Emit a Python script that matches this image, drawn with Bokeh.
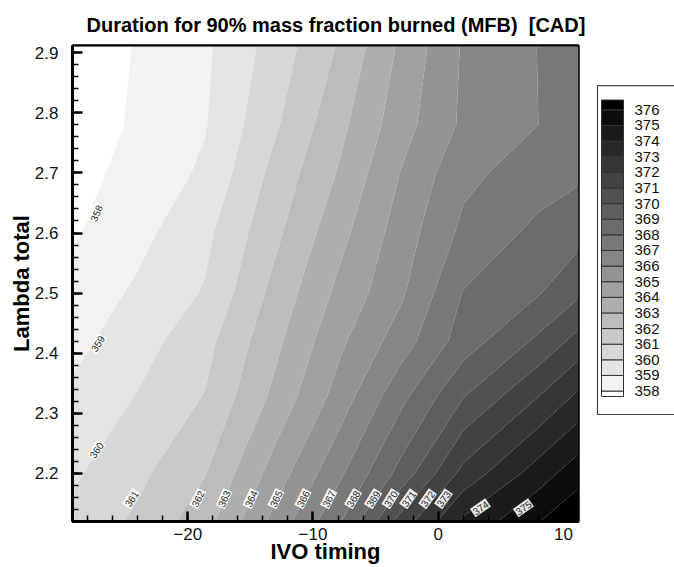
import numpy as np
from bokeh.plotting import figure
from bokeh.models import Range1d, FixedTicker
from bokeh.layouts import row
from bokeh.embed import file_html
from bokeh.resources import INLINE
from bokeh.core.properties import value

# ---------------- data ----------------
ivo_timing = [-29.2, -24.0, -18.6, -13.0, -8.0, -3.0, 2.0, 8.0, 11.2]
lambda_total = [2.12, 2.20, 2.33, 2.42, 2.50, 2.60, 2.70, 2.78, 2.91]

# duration [CAD], one row per lambda value (bottom -> top)
dur_l212 = [360.25, 361.19, 362.60, 365.34, 367.80, 371.40, 374.19, 375.95, 376.90]
dur_l220 = [359.85, 360.76, 361.96, 364.45, 366.75, 369.34, 372.32, 374.50, 375.60]
dur_l233 = [359.18, 360.04, 361.04, 363.25, 365.35, 367.67, 369.92, 371.95, 373.17]
dur_l242 = [358.71, 359.57, 360.68, 362.76, 364.75, 366.50, 368.48, 370.21, 371.37]
dur_l250 = [358.33, 359.17, 360.09, 362.33, 364.22, 365.82, 368.05, 368.93, 369.83]
dur_l260 = [357.89, 358.70, 359.76, 361.78, 363.64, 365.46, 367.24, 368.26, 368.65]
dur_l270 = [357.64, 358.34, 359.17, 361.33, 363.06, 365.03, 366.74, 367.51, 367.82]
dur_l278 = [357.40, 358.16, 358.94, 360.87, 362.68, 364.58, 366.18, 367.00, 367.70]
dur_l291 = [357.34, 358.07, 358.83, 360.43, 362.07, 364.17, 366.11, 367.02, 367.40]

contour_levels = list(range(358, 377))  # 358 ... 376

# in-plot contour labels
clabel_value = [358, 359, 360, 361, 362, 363, 364, 365, 366, 367, 368, 369, 370, 371, 372, 373, 374, 375]
clabel_x = [-27.3, -27.2, -27.3, -24.5, -19.2, -17.1, -14.96, -12.96, -10.8, -8.75, -6.8, -5.2, -3.8, -2.37, -0.85, 0.42, 3.37, 6.8]
clabel_y = [2.633, 2.416, 2.239, 2.158, 2.158, 2.158, 2.158, 2.158, 2.158, 2.158, 2.158, 2.158, 2.158, 2.158, 2.158, 2.158, 2.143, 2.143]
clabel_angle = [66, 58, 56, 57, 63, 65, 65, 65, 63, 63, 60, 58, 58, 55, 55, 55, 35, 35]

x_ticks = [-20, -10, 0, 10]
y_ticks = [2.2, 2.3, 2.4, 2.5, 2.6, 2.7, 2.8, 2.9]

title_text = "Duration for 90% mass fraction burned (MFB)\u00a0 [CAD]"

# ---------------- styling ----------------
FONT = "Liberation Sans"
Z = np.array([dur_l212, dur_l220, dur_l233, dur_l242, dur_l250,
              dur_l260, dur_l270, dur_l278, dur_l291])

fill_levels = [357.0] + contour_levels + [377.5]
nb = len(fill_levels) - 1
grays = []
for i in range(nb):
    g = int(round(255 * (1 - i / (nb - 1))))
    grays.append("#%02x%02x%02x" % (g, g, g))

p = figure(width=595, height=567, output_backend="svg", toolbar_location=None,
           x_range=Range1d(-29.2, 11.2), y_range=Range1d(2.12, 2.912),
           min_border_left=72, min_border_right=17, min_border_top=45, min_border_bottom=46)
p.background_fill_color = "white"
p.border_fill_color = "white"
p.grid.visible = False
p.outline_line_color = "black"
p.outline_line_width = 2.5

p.title.text = title_text
p.title.align = "left"
p.title.offset = 14
p.title.standoff = 20
p.title.text_font = FONT
p.title.text_font_size = "20px"
p.title.text_font_style = "bold"
p.title.text_color = "black"

p.contour(x=ivo_timing, y=lambda_total, z=Z, levels=fill_levels, fill_color=grays)

p.text(x=clabel_x, y=clabel_y, text=[str(v) for v in clabel_value],
       angle=list(np.radians(clabel_angle)),
       text_font=value(FONT), text_font_size=value("10px"), text_color="#222222",
       text_align="center", text_baseline="middle",
       background_fill_color="white", background_fill_alpha=0.9, padding=1)

for ax in (p.xaxis[0], p.yaxis[0]):
    ax.axis_line_width = 3
    ax.axis_line_color = "black"
    ax.major_tick_in = 10
    ax.major_tick_out = 0
    ax.minor_tick_in = 6
    ax.minor_tick_out = 0
    ax.major_tick_line_width = 2.5
    ax.minor_tick_line_width = 1.5
    ax.major_tick_line_color = "black"
    ax.minor_tick_line_color = "black"
    ax.major_label_text_font = FONT
    ax.major_label_text_font_size = "17px"
    ax.major_label_text_color = "#111111"
    ax.axis_label_text_font = FONT
    ax.axis_label_text_font_size = "22px"
    ax.axis_label_text_font_style = "bold"
    ax.axis_label_text_color = "black"

p.xaxis.ticker = FixedTicker(ticks=x_ticks, minor_ticks=list(np.arange(-28, 11, 2)))
p.yaxis.ticker = FixedTicker(ticks=y_ticks, minor_ticks=list(np.round(np.arange(2.12, 2.92, 0.02), 2)))
p.xaxis.axis_label = "IVO timing"
p.yaxis.axis_label = "Lambda total"
p.xaxis.major_label_standoff = 6
p.yaxis.major_label_standoff = 14
p.xaxis.axis_label_standoff = -4
p.yaxis.axis_label_standoff = -2

# ---------------- legend (colour key) ----------------
lg = figure(width=79, height=567, output_backend="svg", toolbar_location=None,
            x_range=Range1d(0, 79), y_range=Range1d(349.65, 380.12),
            x_axis_type=None, y_axis_type=None, min_border=0)
lg.grid.visible = False
lg.outline_line_color = None
lg.background_fill_color = "white"
lg.border_fill_color = "white"

lg.quad(left=2, right=120, bottom=356.5, top=377.55, fill_color="white",
        line_color="#444444", line_width=1.2)
sw_bottom = [357.65] + contour_levels
sw_top = contour_levels + [376.63]
lg.quad(left=6, right=28, bottom=sw_bottom, top=sw_top, fill_color=grays,
        line_color="#333333", line_width=1)
lg.text(x=[39] * len(contour_levels), y=contour_levels, text=[str(v) for v in contour_levels],
        text_font=value(FONT), text_font_size=value("15px"), text_color="#111111",
        text_align="left", text_baseline="middle")

layout = row(p, lg, spacing=0)
open("out.html", "w").write(file_html(layout, INLINE))
